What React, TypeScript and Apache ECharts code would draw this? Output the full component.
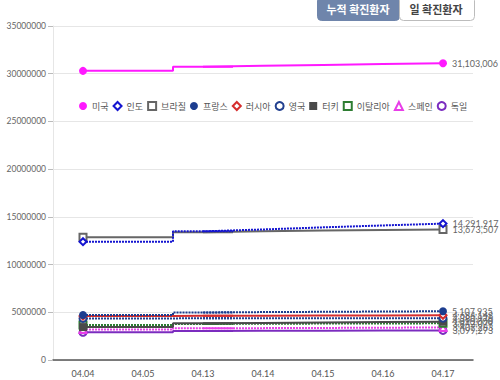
import React, { useEffect, useRef } from "react";
import * as echarts from "echarts";

const categories = ["04.04", "04.05", "04.13", "04.14", "04.15", "04.16", "04.17"];
const seriesNames = ["미국", "인도", "브라질", "프랑스", "러시아", "영국", "터키", "이탈리아", "스페인", "독일"];
const us = [30300000, 30300000, 30740000, 30830000, 30920000, 31010000, 31103006];
const india = [12400000, 12400000, 13480000, 13680000, 13900000, 14100000, 14291917];
const brazil = [12860000, 12860000, 13400000, 13480000, 13560000, 13620000, 13673507];
const france = [4720000, 4720000, 4980000, 5020000, 5050000, 5080000, 5107935];
const russia = [4600000, 4600000, 4640000, 4650000, 4660000, 4670000, 4684148];
const uk = [4360000, 4360000, 4370000, 4373000, 4376000, 4378000, 4380976];
const turkey = [3450000, 3450000, 3850000, 3890000, 3930000, 3970000, 4010000];
const italy = [3670000, 3670000, 3780000, 3800000, 3815000, 3830000, 3842079];
const spain = [3200000, 3200000, 3320000, 3340000, 3360000, 3385000, 3407283];
const germany = [2900000, 2900000, 3040000, 3055000, 3070000, 3085000, 3099273];
const yTicks = [0, 5000000, 10000000, 15000000, 20000000, 25000000, 30000000, 35000000];
const buttons = ["누적 확진환자", "일 확진환자"];

const values = [us, india, brazil, france, russia, uk, turkey, italy, spain, germany];
const colors = ["#ff19ff", "#1414d0", "#666666", "#1c3d8f", "#d62d2d", "#22408f", "#4a4a4a", "#2e7d32", "#e83ee8", "#7b2cbf"];
const symbols = ["circle", "emptyDiamond", "emptyRect", "circle", "emptyDiamond", "emptyCircle", "rect", "emptyRect", "emptyTriangle", "emptyCircle"];
const dotted = [false, true, false, true, false, true, false, true, true, false];

export default function App() {
  const ref = useRef<HTMLDivElement>(null);
  useEffect(() => {
    if (!ref.current) return;
    const chart = echarts.init(ref.current, undefined, { renderer: "svg" });
    const last = categories.length - 1;
    const series: any[] = [];
    seriesNames.forEach((name, k) => {
      const vals = values[k];
      const size = symbols[k] === "circle" || symbols[k] === "rect" ? 8 : 7;
      const common = {
        name,
        type: "line",
        symbol: symbols[k],
        showAllSymbol: true,
        itemStyle: { color: colors[k], borderWidth: 2 },
        lineStyle: { color: colors[k], width: 2, type: dotted[k] ? [2, 1] : "solid" },
        emphasis: { disabled: true },
        z: 10 - k,
      };
      // early segment (04.04 - 04.13), stepped
      series.push({
        ...common,
        step: "middle",
        data: vals.map((v, i) => (i <= 2 ? v : null)),
        symbolSize: (_v: any, p: any) => (p.dataIndex === 0 ? size : 0),
      });
      // later segment (04.13 - 04.17)
      series.push({
        ...common,
        data: vals.map((v, i) => (i >= 2 ? v : null)),
        symbolSize: (_v: any, p: any) => (p.dataIndex === last ? size : 0),
        label: {
          show: true,
          position: "right",
          distance: 5,
          color: "#666",
          fontSize: 9,
          fontFamily: "Lato",
          formatter: (p: any) => (p.dataIndex === last ? Number(p.value).toLocaleString("en-US") : ""),
        },
      });
    });
    chart.setOption({
      animation: false,
      backgroundColor: "#fff",
      grid: { left: 53, right: 27, top: 26, bottom: 20 },
      legend: {
        top: 96,
        left: 74,
        itemWidth: 8,
        itemHeight: 8,
        itemGap: 4,
        textStyle: { fontSize: 9, color: "#555", fontFamily: "Noto Sans CJK KR" },
        data: seriesNames.map((n, k) => ({ name: n, icon: symbols[k] })),
      },
      xAxis: {
        type: "category",
        data: categories,
        boundaryGap: true,
        axisLine: { lineStyle: { color: "#555", width: 1.5 } },
        axisTick: { show: false },
        axisLabel: { color: "#555", fontSize: 9, fontFamily: "Lato", margin: 9 },
      },
      yAxis: {
        type: "value",
        min: yTicks[0],
        max: yTicks[yTicks.length - 1],
        interval: yTicks[1] - yTicks[0],
        axisLine: { show: true, lineStyle: { color: "#e6e6e6" } },
        axisTick: { show: true, length: 5, lineStyle: { color: "#bbb" } },
        splitLine: { lineStyle: { color: "#e6e6e6" } },
        axisLabel: { color: "#666", fontSize: 8.5, fontFamily: "Lato", margin: 7, formatter: (v: number) => String(v) },
      },
      graphic: [
        {
          type: "rect",
          left: 317,
          top: -4,
          shape: { width: 82, height: 24, r: 4 },
          style: { fill: "#6f85ab", stroke: "#6f85ab" },
        },
        {
          type: "rect",
          left: 399,
          top: -4,
          shape: { width: 75, height: 24, r: 4 },
          style: { fill: "#fff", stroke: "#bcbcbc", lineWidth: 1 },
        },
        {
          type: "text",
          x: 358,
          y: 9,
          style: { text: buttons[0], fill: "#fff", fontSize: 11, fontWeight: "bold", fontFamily: "Noto Sans CJK KR", align: "center", verticalAlign: "middle" },
        },
        {
          type: "text",
          x: 436,
          y: 9,
          style: { text: buttons[1], fill: "#444", fontSize: 11, fontWeight: "bold", fontFamily: "Noto Sans CJK KR", align: "center", verticalAlign: "middle" },
        },
      ],
      series,
    });
    return () => chart.dispose();
  }, []);
  return <div ref={ref} style={{ position: "fixed", left: 0, top: 0, width: 500, height: 380 }} />;
}
